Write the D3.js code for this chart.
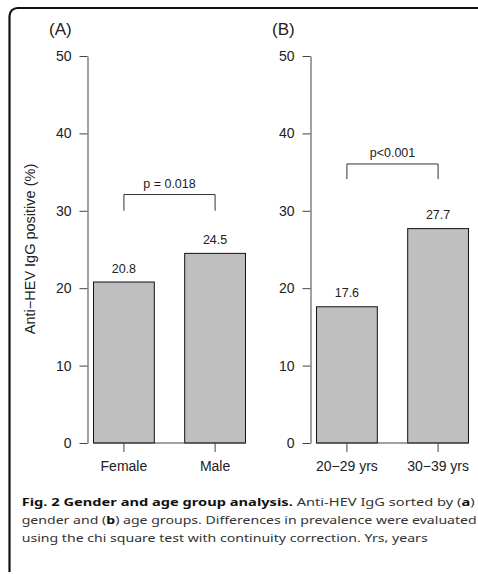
<!DOCTYPE html>
<html>
<head>
<meta charset="utf-8">
<script src="https://cdn.jsdelivr.net/npm/d3@7"></script>
<style>
body { margin:0; background:white; }
#figure text { font-family:"Liberation Sans", Arial, sans-serif; fill:#222; }
#figure .caption text { font-family:"Noto Sans", "Open Sans", sans-serif; fill:#333; }
#figure .axis path, #figure .axis line { stroke:#444; }
</style>
</head>
<body>
<svg id="figure"></svg>
<script>
//data
var panelNames = ["(A)", "(B)"]
var genderCategories = ["Female", "Male"]
var genderValues = [20.8, 24.5]
var ageCategories = ["20\u221229 yrs", "30\u221239 yrs"]
var ageValues = [17.6, 27.7]
var yTicks = [0, 10, 20, 30, 40, 50]
var pLabels = ["p = 0.018", "p<0.001"]
//bracket top and leg bottom, in % units
var bracketTops = [32.1, 36.05]
var bracketLegs = [30, 34.1]
var yTitle = "Anti\u2212HEV IgG positive (%)"

var captionLines = [
    [{t:"Fig. 2 Gender and age group analysis.", b:true}, {t:" Anti-HEV IgG sorted by ("}, {t:"a", b:true}, {t:")"}],
    [{t:"gender and ("}, {t:"b", b:true}, {t:") age groups. Differences in prevalence were evaluated"}],
    [{t:"using the chi square test with continuity correction. Yrs, years"}]
]
var captionWidths = [453, 455, 406]

//draws one bar panel
//axisX is where the y axis sits, idx picks the panel
var drawPanel = function(svg, yScale, axisX, idx, categories, values)
{
    var panel = svg.append("g").classed("panel", true)

    var xScale = d3.scaleBand()
        .domain(categories)
        .range([axisX, axisX + 164])
        .paddingInner(1/3)
        .paddingOuter(0.066)

    //y axis
    var yAxis = d3.axisLeft(yScale)
        .tickValues(yTicks)
        .tickSize(8)
        .tickSizeOuter(0)
        .tickPadding(8)
    var ya = panel.append("g")
        .classed("axis", true)
        .attr("transform", "translate(" + axisX + ",0)")
        .call(yAxis)
    ya.selectAll("text").style("font-size", "14px").attr("fill", "#222")

    //bars
    panel.selectAll("rect.bar")
        .data(values)
        .enter()
        .append("rect")
        .classed("bar", true)
        .attr("x", function(d, i) { return xScale(categories[i]) })
        .attr("y", function(d) { return yScale(d) })
        .attr("width", xScale.bandwidth())
        .attr("height", function(d) { return yScale(0) - yScale(d) })
        .attr("fill", "#bfbfbf")
        .attr("stroke", "#111")
        .attr("stroke-width", 1)

    //value labels
    panel.selectAll("text.value")
        .data(values)
        .enter()
        .append("text")
        .classed("value", true)
        .text(function(d) { return d.toFixed(1) })
        .attr("text-anchor", "middle")
        .attr("x", function(d, i) { return xScale(categories[i]) + xScale.bandwidth()/2 })
        .attr("y", function(d) { return yScale(d) - 9.5 })
        .style("font-size", "12.5px")

    //x axis: baseline under bars plus ticks
    var xAxis = d3.axisBottom(xScale)
        .tickSize(9)
        .tickSizeOuter(0)
        .tickPadding(9.5)
    var xa = panel.append("g")
        .classed("axis", true)
        .attr("transform", "translate(0," + yScale(0) + ")")
        .call(xAxis)
    xa.select(".domain").remove()
    xa.selectAll("text").style("font-size", "14px").attr("fill", "#222")
    xa.append("line")
        .attr("x1", xScale(categories[0]))
        .attr("x2", xScale(categories[categories.length-1]) + xScale.bandwidth())
        .attr("y1", 0)
        .attr("y2", 0)

    //significance bracket
    var c0 = xScale(categories[0]) + xScale.bandwidth()/2
    var c1 = xScale(categories[1]) + xScale.bandwidth()/2
    var top = yScale(bracketTops[idx])
    var leg = yScale(bracketLegs[idx])
    panel.append("path")
        .attr("d", "M" + c0 + "," + leg + "V" + top + "H" + c1 + "V" + leg)
        .attr("fill", "none")
        .attr("stroke", "#333")
        .attr("stroke-width", 1)
    panel.append("text")
        .text(pLabels[idx])
        .attr("text-anchor", "middle")
        .attr("x", (c0 + c1)/2)
        .attr("y", top - 7)
        .style("font-size", "12.5px")

    //panel name
    panel.append("text")
        .text(panelNames[idx])
        .attr("x", axisX - 38.5)
        .attr("y", 35)
        .style("font-size", "17px")
}

var drawCaption = function(svg)
{
    var caption = svg.append("g").classed("caption", true)
    var lines = caption.selectAll("text")
        .data(captionLines)
        .enter()
        .append("text")
        .attr("x", 21.7)
        .attr("y", function(d, i) { return 505.5 + i*18.3 })
        .attr("textLength", function(d, i) { return captionWidths[i] })
        .attr("lengthAdjust", "spacingAndGlyphs")
        .style("font-size", "11.3px")
    lines.selectAll("tspan")
        .data(function(d) { return d })
        .enter()
        .append("tspan")
        .text(function(d) { return d.t })
        .style("font-weight", function(d) { return d.b ? "bold" : "normal" })
        .attr("fill", function(d) { return d.b ? "#111" : "#333" })
}

var initFigure = function()
{
    var screen = {width:478, height:574}
    var svg = d3.select("#figure")
        .attr("width", screen.width)
        .attr("height", screen.height)

    //open frame, rounded top left corner
    svg.append("path")
        .attr("d", "M9.5,572V16A8,8 0 0 1 17.5,8H478")
        .attr("fill", "none")
        .attr("stroke", "#111")
        .attr("stroke-width", 2.2)

    var yScale = d3.scaleLinear()
        .domain([0, 50])
        .range([443, 56])

    drawPanel(svg, yScale, 87.5, 0, genderCategories, genderValues)
    drawPanel(svg, yScale, 310.5, 1, ageCategories, ageValues)

    //y title
    svg.append("text")
        .text(yTitle)
        .attr("text-anchor", "middle")
        .attr("transform", "translate(34.5,249) rotate(-90)")
        .style("font-size", "14.5px")

    drawCaption(svg)
}

initFigure()
</script>
</body>
</html>
